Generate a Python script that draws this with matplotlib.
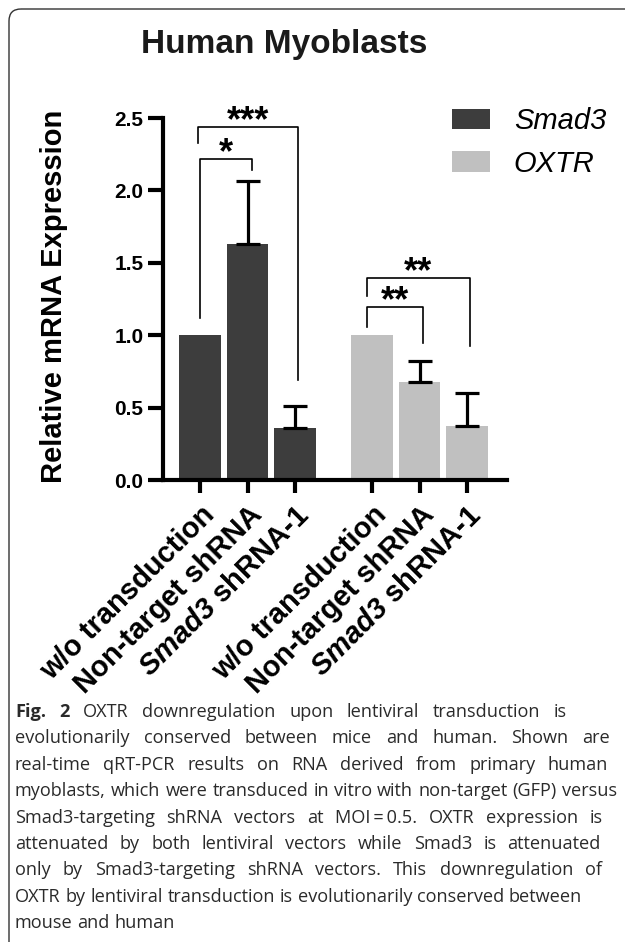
import matplotlib
matplotlib.use('Agg')
import matplotlib.pyplot as plt
from matplotlib.patches import FancyBboxPatch

# chart data
title = 'Human Myoblasts'
ylabel = 'Relative mRNA Expression'
genes = ['Smad3', 'OXTR']
conditions = ['w/o transduction', 'Non-target shRNA', r'$\mathbfit{Smad3}$ shRNA-1']
smad3_mean = [1.0, 1.63, 0.36]
smad3_err = [0.0, 0.435, 0.15]
oxtr_mean = [1.0, 0.68, 0.373]
oxtr_err = [0.0, 0.14, 0.227]
yticks = [0.0, 0.5, 1.0, 1.5, 2.0, 2.5]

# significance brackets: left x, right x, top y, left leg end, right leg end, label
brackets = [
    (-0.04, 2.06, 2.44, 2.33, 0.69, '***'),
    (0.0, 1.10, 2.22, 1.12, 2.14, '*'),
    (3.51, 5.68, 1.395, 1.27, 0.925, '**'),
    (3.51, 4.70, 1.195, 1.06, 0.946, '**'),
]

caption_lines = [
    'Fig. 2 OXTR downregulation upon lentiviral transduction is',
    'evolutionarily conserved between mice and human. Shown are',
    'real-time qRT-PCR results on RNA derived from primary human',
    'myoblasts, which were transduced in vitro with non-target (GFP) versus',
    'Smad3-targeting shRNA vectors at MOI\u2009=\u20090.5. OXTR expression is',
    'attenuated by both lentiviral vectors while Smad3 is attenuated',
    'only by Smad3-targeting shRNA vectors. This downregulation of',
    'OXTR by lentiviral transduction is evolutionarily conserved between',
    'mouse and human',
]

W, H = 625, 942
plt.rcParams['font.family'] = ['Liberation Sans', 'DejaVu Sans']
plt.rcParams['mathtext.fontset'] = 'custom'
plt.rcParams['mathtext.rm'] = 'Liberation Sans:bold'
plt.rcParams['mathtext.bfit'] = 'Liberation Sans:italic:bold'
fig = plt.figure(figsize=(W / 100, H / 100), dpi=100)

# frame around the figure panel
bg = fig.add_axes([0, 0, 1, 1], zorder=-1)
bg.set_xlim(0, W)
bg.set_ylim(H, 0)
bg.axis('off')
bg.add_patch(FancyBboxPatch((9, 9), 700, 1000, boxstyle='round,pad=0,rounding_size=12',
                            fill=False, ec='#333333', lw=1.0))

ax = fig.add_axes([163 / W, 1 - 480 / H, (507 - 163) / W, (480 - 118) / H])

x_smad3 = [0, 1, 2]
x_oxtr = [3.62, 4.62, 5.62]
dark, light = '#3d3d3d', '#c0c0c0'

ax.bar(x_smad3, smad3_mean, width=0.88, color=dark, label=genes[0], zorder=2)
ax.bar(x_oxtr, oxtr_mean, width=0.88, color=light, label=genes[1], zorder=2)

for xs, m, e in [(x_smad3, smad3_mean, smad3_err), (x_oxtr, oxtr_mean, oxtr_err)]:
    idx = [i for i in range(len(e)) if e[i] > 0]
    ax.errorbar([xs[i] for i in idx], [m[i] for i in idx],
                yerr=[[0] * len(idx), [e[i] for i in idx]],
                fmt='none', ecolor='black', elinewidth=2.3, capsize=8.6, capthick=2.3, zorder=3)

for xl, xr, yt, yl, yr, lab in brackets:
    ax.plot([xl, xl, xr, xr], [yl, yt, yt, yr], color='black', lw=1.2, clip_on=False, zorder=4)
    ax.annotate(lab, xy=((xl + xr) / 2, yt), xytext=(0, -3), textcoords='offset points',
                ha='center', va='baseline', fontsize=26, fontweight='bold',
                annotation_clip=False)

ax.set_xlim(-0.78, 6.46)
ax.set_ylim(0, 2.5)
ax.set_yticks(yticks)
ax.set_yticklabels(['%.1f' % v for v in yticks], fontsize=15, fontweight='bold')
ax.set_xticks(x_smad3 + x_oxtr)
ax.set_xticklabels(conditions * 2, rotation=45, ha='right', va='top',
                   rotation_mode='anchor', fontsize=21, fontweight='bold')
for s in ['top', 'right']:
    ax.spines[s].set_visible(False)
for s in ['left', 'bottom']:
    ax.spines[s].set_linewidth(3)
ax.tick_params(axis='y', width=3, length=11, pad=3)
ax.tick_params(axis='x', width=3, length=9, pad=6)

ax.legend(loc='upper left', bbox_to_anchor=(451.7 / W, 1 - 107 / H), bbox_transform=fig.transFigure,
          frameon=False, borderpad=0, borderaxespad=0, handlelength=1.33,
          handleheight=0.7, handletextpad=0.8, labelspacing=0.5,
          prop={'style': 'italic', 'size': 21})

fig.text(284 / W, 1 - 44 / H, title, ha='center', va='center', fontsize=24, fontweight='bold',
         color='#1a1a1a')
fig.text(54 / W, 1 - 296 / H, ylabel, ha='center', va='center', rotation=90, fontsize=21,
         fontweight='bold')

# justified caption
renderer = fig.canvas.get_renderer()
cap_font = ['Open Sans', 'DejaVu Sans']
cap_size = 13.1
line_ends = [567, 610, 608, 617, 603, 601, 602, None, None]
x0 = 15
probe1 = fig.text(0, 0, 'a a', fontsize=cap_size, family=cap_font)
probe2 = fig.text(0, 0, 'aa', fontsize=cap_size, family=cap_font)
space = probe1.get_window_extent(renderer).width - probe2.get_window_extent(renderer).width
probe1.remove()
probe2.remove()
for n, line in enumerate(caption_lines):
    y = 1 - (712 + n * 26.4) / H
    words = line.split(' ')
    texts = []
    for k, w in enumerate(words):
        bold = n == 0 and k < 2
        t = fig.text(0, y, w, fontsize=cap_size, family=cap_font, color='#2a2a2a',
                     fontweight='bold' if bold else 'normal', va='center', ha='left')
        texts.append(t)
    widths = [t.get_window_extent(renderer).width for t in texts]
    if line_ends[n] is not None and len(words) > 1:
        gap = (line_ends[n] - x0 - sum(widths)) / (len(words) - 1)
    else:
        gap = space
    xp = x0
    for t, w in zip(texts, widths):
        t.set_x(xp / W)
        xp += w + gap

fig.savefig('out.png', dpi=100)
